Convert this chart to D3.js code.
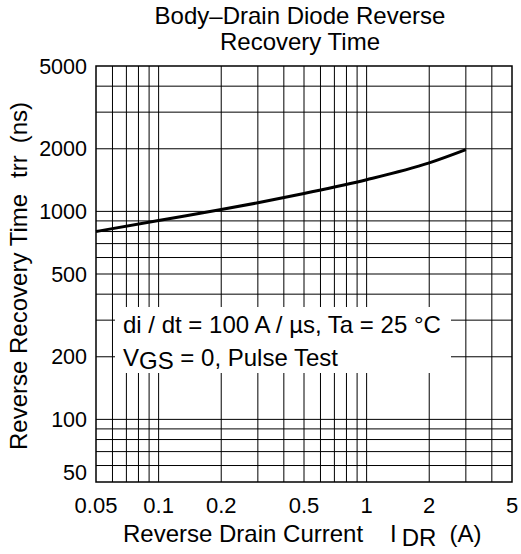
<html>
<head>
<script src="https://d3js.org/d3.v7.min.js"></script>
<style>
  body { margin: 0; background: #fff; }
  text { font-family: "Liberation Sans", Arial, sans-serif; fill: #000; }
</style>
</head>
<body>
<div id="chart"></div>
<script>
// data
var iDR = [0.05, 0.1, 0.2, 0.3, 0.5, 1, 2, 3];
var trr = [800, 905, 1020, 1100, 1220, 1420, 1710, 1980];

var xTicks = [0.05, 0.1, 0.2, 0.5, 1, 2, 5];
var yTicks = [50, 100, 200, 500, 1000, 2000, 5000];
var xGrid = [0.06, 0.07, 0.08, 0.09, 0.1, 0.2, 0.3, 0.4, 0.5, 0.6, 0.7, 0.8, 0.9, 1, 2, 3, 4];
var yGrid = [60, 70, 80, 90, 100, 200, 300, 400, 500, 600, 700, 800, 900, 1000, 2000, 3000, 4000];

var width = 521, height = 554;
// plot box (don't call these top/left, window.top is read only)
var plotL = 96, plotR = 512, plotT = 66, plotB = 482;

var svg = d3.select("#chart").append("svg")
  .attr("width", width)
  .attr("height", height);

var x = d3.scaleLog().domain([0.05, 5]).range([plotL, plotR]);
var y = d3.scaleLog().domain([50, 5000]).range([plotB, plotT]);

// grid
svg.selectAll(".vgrid").data(xGrid).enter().append("line")
  .attr("class", "vgrid")
  .attr("x1", function(d) { return x(d); })
  .attr("x2", function(d) { return x(d); })
  .attr("y1", plotT).attr("y2", plotB)
  .attr("stroke", "#000").attr("stroke-width", 1);

svg.selectAll(".hgrid").data(yGrid).enter().append("line")
  .attr("class", "hgrid")
  .attr("y1", function(d) { return y(d); })
  .attr("y2", function(d) { return y(d); })
  .attr("x1", plotL).attr("x2", plotR)
  .attr("stroke", "#000").attr("stroke-width", 1);

// curve
var line = d3.line()
  .x(function(d, i) { return x(d); })
  .y(function(d, i) { return y(trr[i]); })
  .curve(d3.curveMonotoneX);

svg.append("path")
  .attr("d", line(iDR))
  .attr("fill", "none")
  .attr("stroke", "#000")
  .attr("stroke-width", 3);

// legend box covers the grid
svg.append("rect")
  .attr("x", 115).attr("y", 307)
  .attr("width", 336).attr("height", 66)
  .attr("fill", "#fff");

var leg = svg.append("g").style("font-size", "24px");
leg.append("text").attr("x", 123).attr("y", 333)
  .text("di / dt = 100 A / \u00b5s, Ta = 25 \u00b0C");
var l2 = leg.append("text").attr("x", 123).attr("y", 366);
l2.append("tspan").text("V");
l2.append("tspan").attr("dy", 3).text("GS");
l2.append("tspan").attr("dy", -3).text(" = 0, Pulse Test");

// frame
svg.append("rect")
  .attr("x", plotL).attr("y", plotT)
  .attr("width", plotR - plotL).attr("height", plotB - plotT)
  .attr("fill", "none").attr("stroke", "#000").attr("stroke-width", 1.5);

// tick labels
svg.selectAll(".xl").data(xTicks).enter().append("text")
  .attr("class", "xl")
  .attr("x", function(d) { return x(d); })
  .attr("y", 513)
  .attr("text-anchor", "middle")
  .style("font-size", "22px")
  .text(function(d) { return d; });

svg.selectAll(".yl").data(yTicks).enter().append("text")
  .attr("class", "yl")
  .attr("x", 87)
  .attr("y", function(d) {
    if (d == 50) return y(d) - 2;
    if (d == 5000) return y(d) + 8;
    return y(d) + 7.5;
  })
  .attr("text-anchor", "end")
  .style("font-size", "21.5px")
  .text(function(d) { return d; });

// title
svg.append("text").attr("x", 300).attr("y", 24)
  .attr("text-anchor", "middle").style("font-size", "24px")
  .text("Body\u2013Drain Diode Reverse");
svg.append("text").attr("x", 300).attr("y", 50)
  .attr("text-anchor", "middle").style("font-size", "24px")
  .text("Recovery Time");

// x axis title
var xt = svg.append("text").attr("x", 123).attr("y", 542).style("font-size", "24px");
xt.append("tspan").text("Reverse Drain Current");
xt.append("tspan").attr("dx", 27).text("I");
xt.append("tspan").attr("dx", 5).attr("dy", 4).text("DR");
xt.append("tspan").attr("dx", 13).attr("dy", -4).text("(A)");

// y axis title
var yt = svg.append("text")
  .attr("transform", "translate(27,450) rotate(-90)")
  .style("font-size", "24px");
yt.append("tspan").text("Reverse Recovery Time");
yt.append("tspan").attr("dx", 16).text("trr");
yt.append("tspan").attr("dx", 12).text("(ns)");
</script>
</body>
</html>
